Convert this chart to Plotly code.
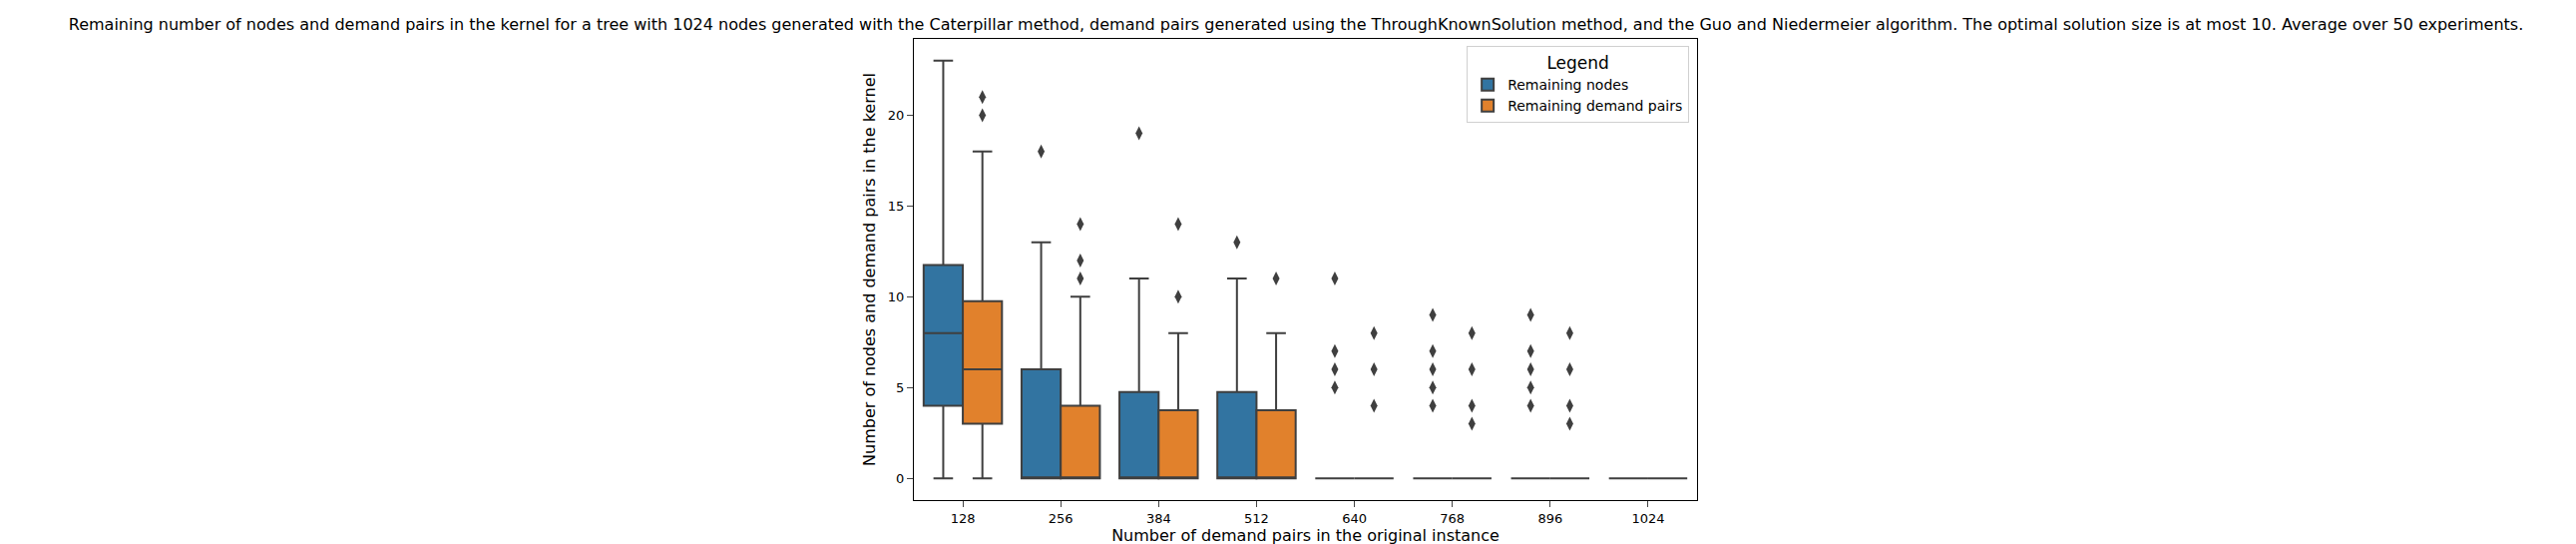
import plotly.graph_objects as go

categories = ["128", "256", "384", "512", "640", "768", "896", "1024"]

nodes_q1 = [4, 0, 0, 0, 0, 0, 0, 0]
nodes_median = [8, 0, 0, 0, 0, 0, 0, 0]
nodes_q3 = [11.75, 6, 4.75, 4.75, 0, 0, 0, 0]
nodes_low = [0, 0, 0, 0, 0, 0, 0, 0]
nodes_high = [23, 13, 11, 11, 0, 0, 0, 0]
nodes_outliers = [[], [18], [19], [13], [5, 6, 7, 11], [4, 5, 6, 7, 9], [4, 5, 6, 7, 9], []]

pairs_q1 = [3, 0, 0, 0, 0, 0, 0, 0]
pairs_median = [6, 0, 0, 0, 0, 0, 0, 0]
pairs_q3 = [9.75, 4, 3.75, 3.75, 0, 0, 0, 0]
pairs_low = [0, 0, 0, 0, 0, 0, 0, 0]
pairs_high = [18, 10, 8, 8, 0, 0, 0, 0]
pairs_outliers = [[20, 21], [11, 12, 14], [10, 14], [11], [4, 6, 8], [3, 4, 6, 8], [3, 4, 6, 8], []]

series = [
    ("Remaining nodes", "#3274a1", -0.2, nodes_q1, nodes_median, nodes_q3, nodes_low, nodes_high, nodes_outliers),
    ("Remaining demand pairs", "#e1812c", 0.2, pairs_q1, pairs_median, pairs_q3, pairs_low, pairs_high, pairs_outliers),
]

LINE = "#3f3f3f"
fig = go.Figure()
for name, color, off, q1, med, q3, lo, hi, outs in series:
    xs = [i + off for i in range(len(categories))]
    fig.add_trace(go.Box(
        name=name, x=xs, q1=q1, median=med, q3=q3, lowerfence=lo, upperfence=hi,
        fillcolor=color, line=dict(color=LINE, width=2), width=0.4, whiskerwidth=0.5,
        boxpoints=False, showlegend=True,
    ))
    ox, oy = [], []
    for x, vals in zip(xs, outs):
        for v in vals:
            ox.append(x)
            oy.append(v)
    fig.add_trace(go.Scatter(
        x=ox, y=oy, mode="markers", showlegend=False,
        marker=dict(symbol="diamond-tall", size=10, color=LINE),
    ))

fig.update_layout(
    width=2582, height=545,
    font=dict(family="DejaVu Sans", size=13, color="black"),
    paper_bgcolor="white", plot_bgcolor="white",
    margin=dict(l=908, r=889, t=31, b=52),
    title=dict(
        text="Remaining number of nodes and demand pairs in the kernel for a tree with 1024 nodes generated with the Caterpillar method, demand pairs generated using the ThroughKnownSolution method, and the Guo and Niedermeier algorithm. The optimal solution size is at most 10. Average over 50 experiments.",
        x=0.5, xanchor="center", y=0.97, yanchor="middle", font=dict(size=16),
    ),
    legend=dict(
        x=0.99, y=0.985, xanchor="right", yanchor="top",
        bordercolor="#d0d0d0", borderwidth=1, bgcolor="white",
        title=dict(text="Legend", side="top center"), font=dict(size=14),
    ),
    xaxis=dict(
        range=[-0.5, 7.5], tickmode="array", tickvals=list(range(len(categories))),
        ticktext=categories, showgrid=False, zeroline=False, showline=True, mirror=True,
        linecolor="black", linewidth=1, ticks="outside", ticklen=6,
        title=dict(text="Number of demand pairs in the original instance", standoff=4),
    ),
    yaxis=dict(
        range=[-1.2, 24.2], tickvals=[0, 5, 10, 15, 20], showgrid=False, zeroline=False,
        showline=True, mirror=True, linecolor="black", linewidth=1, ticks="outside", ticklen=6,
        title=dict(text="Number of nodes and demand pairs in the kernel", standoff=8),
    ),
)

fig.write_html("out.html")
